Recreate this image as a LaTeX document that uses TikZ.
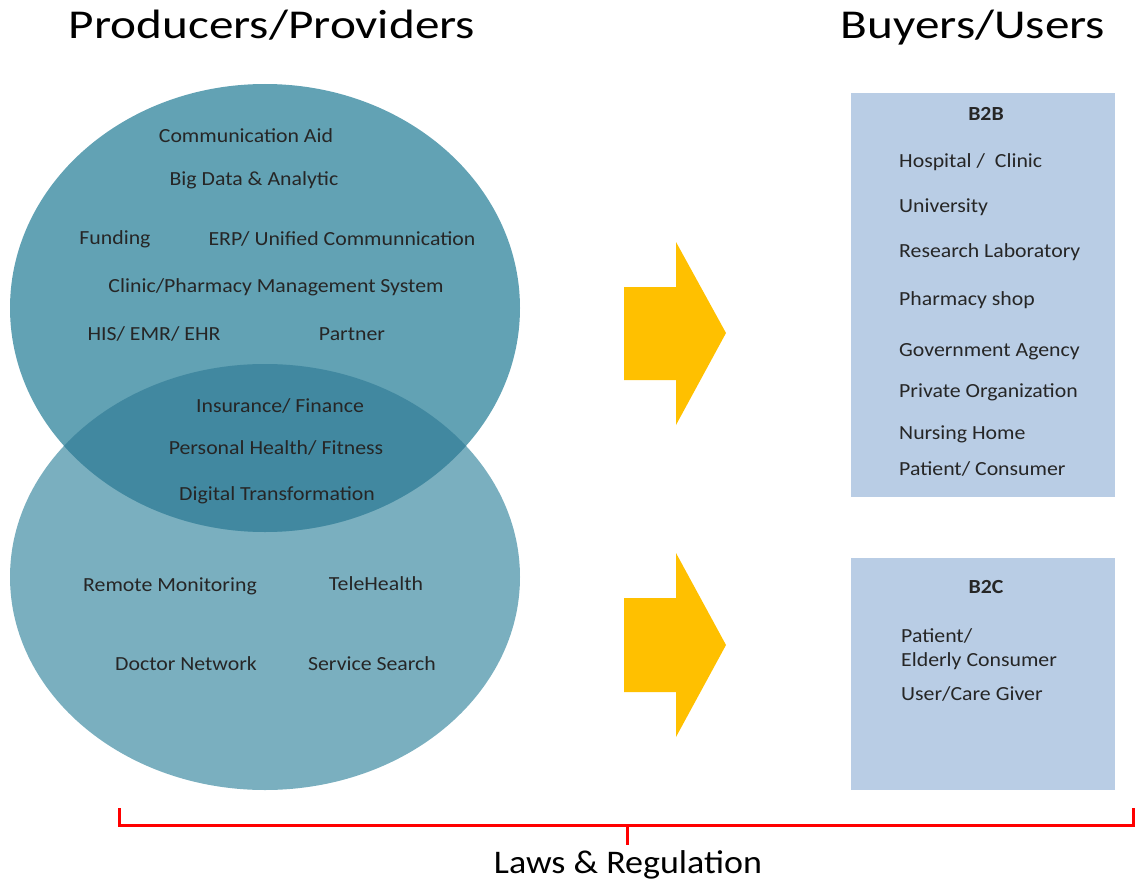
\documentclass[tikz,border=0pt]{standalone}
\usepackage{fontspec}
\setmainfont{Carlito}
\newfontfamily\bodyfont[FakeStretch=1.09]{Carlito}
\newfontfamily\titlefont[FakeStretch=1.2]{Carlito}
\begin{document}
\begin{tikzpicture}[x=1pt,y=-1pt,
  lbl/.style={inner sep=0pt, font=\bodyfont\fontsize{20}{23}\selectfont, text=black!85},
  item/.style={lbl, anchor=west},
  boxhead/.style={lbl, font=\bodyfont\fontsize{20}{23}\selectfont\bfseries},
  head/.style={inner sep=0pt, anchor=base, font=\titlefont\fontsize{41}{46}\selectfont},
  bigarrow/.style={fill=arrowgold, draw=none},
  bracket/.style={draw=bracketred, line width=3pt}]
\definecolor{topblue}{HTML}{62A2B4}
\definecolor{lowblue}{HTML}{7AAFBF}
\definecolor{midblue}{HTML}{4188A0}
\definecolor{boxblue}{HTML}{B9CDE5}
\definecolor{arrowgold}{HTML}{FFC000}
\definecolor{bracketred}{HTML}{FF0000}
\useasboundingbox (0,0) rectangle (1136,880);

% headings
\node[head] (prod) at (272,39) {Producers/Providers};
\node[head] (buy) at (973,39) {Buyers/Users};

% the two overlapping circles
\fill[lowblue] (265,577) ellipse [x radius=255, y radius=213];
\fill[topblue] (265,308) ellipse [x radius=255, y radius=224];
\begin{scope}
  \clip (265,308) ellipse [x radius=255, y radius=224];
  \fill[midblue] (265,577) ellipse [x radius=255, y radius=213];
\end{scope}

% providers
\node[lbl] (ca)  at (246,136) {Communication Aid};
\node[lbl] (bd)  at (254,180) {Big Data \& Analytic};
\node[lbl] (fu)  at (115,239) {Funding};
\node[lbl] (erp) at (342,239) {ERP/ Unified Communnication};
\node[lbl] (cpm) at (276,287) {Clinic/Pharmacy Management System};
\node[lbl] (his) at (154,334) {HIS/ EMR/ EHR};
\node[lbl] (pa)  at (352,334) {Partner};
\node[lbl] (ins) at (280,406) {Insurance/ Finance};
\node[lbl] (phf) at (276,448) {Personal Health/ Fitness};
\node[lbl] (dt)  at (277,495) {Digital Transformation};
\node[lbl] (rm)  at (170,586) {Remote Monitoring};
\node[lbl] (th)  at (376,584) {TeleHealth};
\node[lbl] (dn)  at (186,664) {Doctor Network};
\node[lbl] (ss)  at (372,664) {Service Search};

% block arrows
\fill[bigarrow] (624,287) -- (676,287) -- (676,242) -- (726,333) -- (676,425)
  -- (676,380) -- (624,380) -- cycle;
\fill[bigarrow] (624,598) -- (676,598) -- (676,553) -- (726,645) -- (676,737)
  -- (676,692) -- (624,692) -- cycle;

% buyer boxes
\fill[boxblue] (851,93) rectangle (1115,497);
\fill[boxblue] (851,558) rectangle (1115,790);

\node[boxhead] (b2b) at (986,114) {B2B};
\node[item] (hc) at (899,162) {Hospital /\ \ Clinic};
\node[item] (un) at (899,207) {University};
\node[item] (rl) at (899,252) {Research Laboratory};
\node[item] (ps) at (899,300) {Pharmacy shop};
\node[item] (ga) at (899,352) {Government Agency};
\node[item] (po) at (899,392) {Private Organization};
\node[item] (nh) at (899,434) {Nursing Home};
\node[item] (pc) at (899,469) {Patient/ Consumer};

\node[boxhead] (b2c) at (986,587) {B2C};
\node[item] (pt) at (901,636) {Patient/};
\node[item] (ec) at (901,661) {Elderly Consumer};
\node[item] (cg) at (901,694) {User/Care Giver};

% regulation bracket
\coordinate (bl) at (119,808);
\coordinate (br) at (1133,808);
\coordinate (bm) at (627,825);
\node[inner sep=0pt, anchor=base, font=\bodyfont\fontsize{33}{38}\selectfont] (law) at (628,873) {Laws \& Regulation};
\draw[bracket] (bl) -- (119,825) -- (1133,825) -- (br);
\draw[bracket] (bm) -- (627,845);
\end{tikzpicture}
\end{document}
